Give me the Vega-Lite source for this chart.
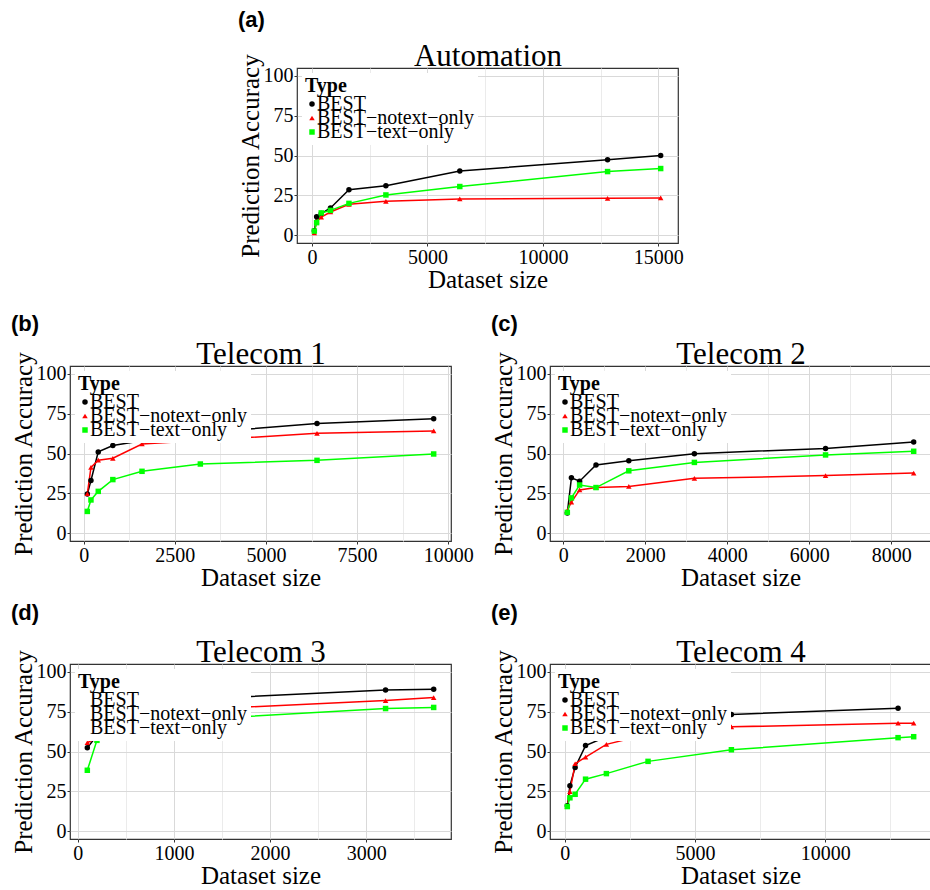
{
  "$schema": "https://vega.github.io/schema/vega-lite/v6.json",
  "background": "white",
  "padding": {"left": 10, "top": 8, "right": 0, "bottom": 0},
  "datasets": {
    "a": [
      {"size": 100, "acc": 2.7, "type": "BEST"}, {"size": 200, "acc": 11.5, "type": "BEST"}, {"size": 400, "acc": 13.5, "type": "BEST"}, {"size": 800, "acc": 17, "type": "BEST"}, {"size": 1600, "acc": 28.5, "type": "BEST"}, {"size": 3200, "acc": 31, "type": "BEST"}, {"size": 6400, "acc": 40.3, "type": "BEST"}, {"size": 12800, "acc": 47.3, "type": "BEST"}, {"size": 15100, "acc": 50, "type": "BEST"},
      {"size": 100, "acc": 1.3, "type": "BEST−notext−only"}, {"size": 200, "acc": 8.6, "type": "BEST−notext−only"}, {"size": 400, "acc": 11.3, "type": "BEST−notext−only"}, {"size": 800, "acc": 14.5, "type": "BEST−notext−only"}, {"size": 1600, "acc": 19.3, "type": "BEST−notext−only"}, {"size": 3200, "acc": 21.2, "type": "BEST−notext−only"}, {"size": 6400, "acc": 22.7, "type": "BEST−notext−only"}, {"size": 12800, "acc": 23.1, "type": "BEST−notext−only"}, {"size": 15100, "acc": 23.3, "type": "BEST−notext−only"},
      {"size": 100, "acc": 2.5, "type": "BEST−text−only"}, {"size": 200, "acc": 7.8, "type": "BEST−text−only"}, {"size": 400, "acc": 13.9, "type": "BEST−text−only"}, {"size": 800, "acc": 15.5, "type": "BEST−text−only"}, {"size": 1600, "acc": 19.9, "type": "BEST−text−only"}, {"size": 3200, "acc": 25.2, "type": "BEST−text−only"}, {"size": 6400, "acc": 30.5, "type": "BEST−text−only"}, {"size": 12800, "acc": 39.9, "type": "BEST−text−only"}, {"size": 15100, "acc": 41.8, "type": "BEST−text−only"}
    ],
    "b": [
      {"size": 100, "acc": 24.5, "type": "BEST"}, {"size": 200, "acc": 33, "type": "BEST"}, {"size": 400, "acc": 51, "type": "BEST"}, {"size": 800, "acc": 55, "type": "BEST"}, {"size": 1600, "acc": 58, "type": "BEST"}, {"size": 3200, "acc": 63, "type": "BEST"}, {"size": 6400, "acc": 68.8, "type": "BEST"}, {"size": 9600, "acc": 71.9, "type": "BEST"},
      {"size": 100, "acc": 24.7, "type": "BEST−notext−only"}, {"size": 200, "acc": 41.3, "type": "BEST−notext−only"}, {"size": 400, "acc": 45.8, "type": "BEST−notext−only"}, {"size": 800, "acc": 47, "type": "BEST−notext−only"}, {"size": 1600, "acc": 56, "type": "BEST−notext−only"}, {"size": 3200, "acc": 58.1, "type": "BEST−notext−only"}, {"size": 6400, "acc": 62.7, "type": "BEST−notext−only"}, {"size": 9600, "acc": 64.2, "type": "BEST−notext−only"},
      {"size": 100, "acc": 13.6, "type": "BEST−text−only"}, {"size": 200, "acc": 20.8, "type": "BEST−text−only"}, {"size": 400, "acc": 26.2, "type": "BEST−text−only"}, {"size": 800, "acc": 33.6, "type": "BEST−text−only"}, {"size": 1600, "acc": 38.8, "type": "BEST−text−only"}, {"size": 3200, "acc": 43.4, "type": "BEST−text−only"}, {"size": 6400, "acc": 45.7, "type": "BEST−text−only"}, {"size": 9600, "acc": 49.7, "type": "BEST−text−only"}
    ],
    "c": [
      {"size": 100, "acc": 12.6, "type": "BEST"}, {"size": 200, "acc": 34.7, "type": "BEST"}, {"size": 400, "acc": 32.6, "type": "BEST"}, {"size": 800, "acc": 42.8, "type": "BEST"}, {"size": 1600, "acc": 45.5, "type": "BEST"}, {"size": 3200, "acc": 49.9, "type": "BEST"}, {"size": 6400, "acc": 53.2, "type": "BEST"}, {"size": 8550, "acc": 57.2, "type": "BEST"},
      {"size": 100, "acc": 14.2, "type": "BEST−notext−only"}, {"size": 200, "acc": 19.5, "type": "BEST−notext−only"}, {"size": 400, "acc": 27.1, "type": "BEST−notext−only"}, {"size": 800, "acc": 28.6, "type": "BEST−notext−only"}, {"size": 1600, "acc": 29.3, "type": "BEST−notext−only"}, {"size": 3200, "acc": 34.4, "type": "BEST−notext−only"}, {"size": 6400, "acc": 36.1, "type": "BEST−notext−only"}, {"size": 8550, "acc": 37.7, "type": "BEST−notext−only"},
      {"size": 100, "acc": 13.0, "type": "BEST−text−only"}, {"size": 200, "acc": 22.1, "type": "BEST−text−only"}, {"size": 400, "acc": 30.2, "type": "BEST−text−only"}, {"size": 800, "acc": 28.6, "type": "BEST−text−only"}, {"size": 1600, "acc": 39.1, "type": "BEST−text−only"}, {"size": 3200, "acc": 44.4, "type": "BEST−text−only"}, {"size": 6400, "acc": 49.1, "type": "BEST−text−only"}, {"size": 8550, "acc": 51.4, "type": "BEST−text−only"}
    ],
    "d": [
      {"size": 100, "acc": 52.4, "type": "BEST"}, {"size": 200, "acc": 60, "type": "BEST"}, {"size": 400, "acc": 68, "type": "BEST"}, {"size": 800, "acc": 77, "type": "BEST"}, {"size": 1600, "acc": 84, "type": "BEST"}, {"size": 3200, "acc": 88.7, "type": "BEST"}, {"size": 3700, "acc": 89.1, "type": "BEST"},
      {"size": 100, "acc": 55.5, "type": "BEST−notext−only"}, {"size": 200, "acc": 58.7, "type": "BEST−notext−only"}, {"size": 400, "acc": 65, "type": "BEST−notext−only"}, {"size": 800, "acc": 72, "type": "BEST−notext−only"}, {"size": 1600, "acc": 77.5, "type": "BEST−notext−only"}, {"size": 3200, "acc": 82.0, "type": "BEST−notext−only"}, {"size": 3700, "acc": 83.9, "type": "BEST−notext−only"},
      {"size": 100, "acc": 38.2, "type": "BEST−text−only"}, {"size": 200, "acc": 57.0, "type": "BEST−text−only"}, {"size": 400, "acc": 62, "type": "BEST−text−only"}, {"size": 800, "acc": 67, "type": "BEST−text−only"}, {"size": 1600, "acc": 71.5, "type": "BEST−text−only"}, {"size": 3200, "acc": 77.0, "type": "BEST−text−only"}, {"size": 3700, "acc": 77.7, "type": "BEST−text−only"}
    ],
    "e": [
      {"size": 100, "acc": 15.9, "type": "BEST"}, {"size": 200, "acc": 28.5, "type": "BEST"}, {"size": 400, "acc": 40, "type": "BEST"}, {"size": 800, "acc": 53.7, "type": "BEST"}, {"size": 1600, "acc": 59.3, "type": "BEST"}, {"size": 3200, "acc": 66, "type": "BEST"}, {"size": 6400, "acc": 73.3, "type": "BEST"}, {"size": 12800, "acc": 77.2, "type": "BEST"},
      {"size": 100, "acc": 15.4, "type": "BEST−notext−only"}, {"size": 200, "acc": 24.8, "type": "BEST−notext−only"}, {"size": 400, "acc": 42.3, "type": "BEST−notext−only"}, {"size": 800, "acc": 46.5, "type": "BEST−notext−only"}, {"size": 1600, "acc": 54.5, "type": "BEST−notext−only"}, {"size": 3200, "acc": 60.8, "type": "BEST−notext−only"}, {"size": 6400, "acc": 65.5, "type": "BEST−notext−only"}, {"size": 12800, "acc": 67.8, "type": "BEST−notext−only"}, {"size": 13400, "acc": 67.8, "type": "BEST−notext−only"},
      {"size": 100, "acc": 15.4, "type": "BEST−text−only"}, {"size": 200, "acc": 20.9, "type": "BEST−text−only"}, {"size": 400, "acc": 23.1, "type": "BEST−text−only"}, {"size": 800, "acc": 32.6, "type": "BEST−text−only"}, {"size": 1600, "acc": 36.1, "type": "BEST−text−only"}, {"size": 3200, "acc": 43.8, "type": "BEST−text−only"}, {"size": 6400, "acc": 51.1, "type": "BEST−text−only"}, {"size": 12800, "acc": 58.7, "type": "BEST−text−only"}, {"size": 13400, "acc": 59.3, "type": "BEST−text−only"}
    ]
  },
  "bounds": "flush",
  "spacing": 298,
  "resolve": {"scale": {"color": "independent", "shape": "independent"}},
  "vconcat": [
    {
      "bounds": "flush",
      "spacing": 27,
      "resolve": {"scale": {"color": "independent", "shape": "independent"}},
      "hconcat": [
        {"width": 200, "height": 175, "view": {"stroke": null}, "data": {"values": []}, "mark": "point", "encoding": {}},
        {
          "width": 381, "height": 175,
          "title": {"text": "(a)", "offset": 8},
          "data": {"name": "a"},
          "resolve": {"axis": {"x": "independent"}},
          "layer": [
            {"mark": {"type": "line", "strokeWidth": 1.5},
             "encoding": {
               "x": {"field": "size", "type": "quantitative", "scale": {"domain": [-650, 15850], "nice": false, "zero": false},
                     "axis": {"title": "Dataset size", "values": [0, 2500, 5000, 7500, 10000, 12500, 15000], "format": "d", "labelExpr": "datum.value % 5000 === 0 ? datum.label : ''", "gridColor": {"condition": {"test": "datum.value % 5000 !== 0", "value": "#ebebeb"}, "value": "#d9d9d9"}, "tickColor": {"condition": {"test": "datum.value % 5000 !== 0", "value": "transparent"}, "value": "#333333"}}},
               "y": {"field": "acc", "type": "quantitative", "scale": {"domain": [-5, 105], "nice": false, "zero": false},
                     "axis": {"title": "Prediction Accuracy", "values": [0, 12.5, 25, 37.5, 50, 62.5, 75, 87.5, 100], "labelExpr": "datum.value % 25 === 0 ? datum.label : ''", "gridColor": {"condition": {"test": "datum.value % 25 !== 0", "value": "#ebebeb"}, "value": "#d9d9d9"}, "tickColor": {"condition": {"test": "datum.value % 25 !== 0", "value": "transparent"}, "value": "#333333"}}},
               "color": {"field": "type", "type": "nominal", "title": "Type", "scale": {"domain": ["BEST", "BEST−notext−only", "BEST−text−only"], "range": ["#000000", "#ff0000", "#00ff00"]}}
             }},
            {"mark": {"type": "point", "filled": true, "size": 30, "opacity": 1},
             "encoding": {
               "x": {"field": "size", "type": "quantitative", "axis": {"orient": "top", "title": "Automation", "labels": false, "ticks": false, "grid": false, "domain": false, "titleFontSize": 31, "titlePadding": -4}},
               "y": {"field": "acc", "type": "quantitative"},
               "color": {"field": "type", "type": "nominal", "title": "Type", "scale": {"domain": ["BEST", "BEST−notext−only", "BEST−text−only"], "range": ["#000000", "#ff0000", "#00ff00"]}},
               "shape": {"field": "type", "type": "nominal", "title": "Type", "scale": {"domain": ["BEST", "BEST−notext−only", "BEST−text−only"], "range": ["circle", "triangle-up", "square"]}}
             }}
          ]
        }
      ]
    },
    {
      "bounds": "flush",
      "spacing": 99,
      "resolve": {"scale": {"color": "independent", "shape": "independent"}},
      "hconcat": [
        {
          "width": 381, "height": 175,
          "title": {"text": "(b)", "offset": 2},
          "data": {"name": "b"},
          "resolve": {"axis": {"x": "independent"}},
          "layer": [
            {"mark": {"type": "line", "strokeWidth": 1.5},
             "encoding": {
               "x": {"field": "size", "type": "quantitative", "scale": {"domain": [-375, 10075], "nice": false, "zero": false},
                     "axis": {"title": "Dataset size", "values": [0, 1250, 2500, 3750, 5000, 6250, 7500, 8750, 10000], "format": "d", "labelExpr": "datum.value % 2500 === 0 ? datum.label : ''", "gridColor": {"condition": {"test": "datum.value % 2500 !== 0", "value": "#ebebeb"}, "value": "#d9d9d9"}, "tickColor": {"condition": {"test": "datum.value % 2500 !== 0", "value": "transparent"}, "value": "#333333"}}},
               "y": {"field": "acc", "type": "quantitative", "scale": {"domain": [-5, 105], "nice": false, "zero": false},
                     "axis": {"title": "Prediction Accuracy", "values": [0, 12.5, 25, 37.5, 50, 62.5, 75, 87.5, 100], "labelExpr": "datum.value % 25 === 0 ? datum.label : ''", "gridColor": {"condition": {"test": "datum.value % 25 !== 0", "value": "#ebebeb"}, "value": "#d9d9d9"}, "tickColor": {"condition": {"test": "datum.value % 25 !== 0", "value": "transparent"}, "value": "#333333"}}},
               "color": {"field": "type", "type": "nominal", "title": "Type", "scale": {"domain": ["BEST", "BEST−notext−only", "BEST−text−only"], "range": ["#000000", "#ff0000", "#00ff00"]}}
             }},
            {"mark": {"type": "point", "filled": true, "size": 30, "opacity": 1},
             "encoding": {
               "x": {"field": "size", "type": "quantitative", "axis": {"orient": "top", "title": "Telecom 1", "labels": false, "ticks": false, "grid": false, "domain": false, "titleFontSize": 31, "titlePadding": -4}},
               "y": {"field": "acc", "type": "quantitative"},
               "color": {"field": "type", "type": "nominal", "title": "Type", "scale": {"domain": ["BEST", "BEST−notext−only", "BEST−text−only"], "range": ["#000000", "#ff0000", "#00ff00"]}},
               "shape": {"field": "type", "type": "nominal", "title": "Type", "scale": {"domain": ["BEST", "BEST−notext−only", "BEST−text−only"], "range": ["circle", "triangle-up", "square"]}}
             }}
          ]
        },
        {
          "width": 381, "height": 175,
          "title": {"text": "(c)", "offset": 2},
          "data": {"name": "c"},
          "resolve": {"axis": {"x": "independent"}},
          "layer": [
            {"mark": {"type": "line", "strokeWidth": 1.5},
             "encoding": {
               "x": {"field": "size", "type": "quantitative", "scale": {"domain": [-322.5, 8972.5], "nice": false, "zero": false},
                     "axis": {"title": "Dataset size", "values": [0, 1000, 2000, 3000, 4000, 5000, 6000, 7000, 8000], "format": "d", "labelExpr": "datum.value % 2000 === 0 ? datum.label : ''", "gridColor": {"condition": {"test": "datum.value % 2000 !== 0", "value": "#ebebeb"}, "value": "#d9d9d9"}, "tickColor": {"condition": {"test": "datum.value % 2000 !== 0", "value": "transparent"}, "value": "#333333"}}},
               "y": {"field": "acc", "type": "quantitative", "scale": {"domain": [-5, 105], "nice": false, "zero": false},
                     "axis": {"title": "Prediction Accuracy", "values": [0, 12.5, 25, 37.5, 50, 62.5, 75, 87.5, 100], "labelExpr": "datum.value % 25 === 0 ? datum.label : ''", "gridColor": {"condition": {"test": "datum.value % 25 !== 0", "value": "#ebebeb"}, "value": "#d9d9d9"}, "tickColor": {"condition": {"test": "datum.value % 25 !== 0", "value": "transparent"}, "value": "#333333"}}},
               "color": {"field": "type", "type": "nominal", "title": "Type", "scale": {"domain": ["BEST", "BEST−notext−only", "BEST−text−only"], "range": ["#000000", "#ff0000", "#00ff00"]}}
             }},
            {"mark": {"type": "point", "filled": true, "size": 30, "opacity": 1},
             "encoding": {
               "x": {"field": "size", "type": "quantitative", "axis": {"orient": "top", "title": "Telecom 2", "labels": false, "ticks": false, "grid": false, "domain": false, "titleFontSize": 31, "titlePadding": -4}},
               "y": {"field": "acc", "type": "quantitative"},
               "color": {"field": "type", "type": "nominal", "title": "Type", "scale": {"domain": ["BEST", "BEST−notext−only", "BEST−text−only"], "range": ["#000000", "#ff0000", "#00ff00"]}},
               "shape": {"field": "type", "type": "nominal", "title": "Type", "scale": {"domain": ["BEST", "BEST−notext−only", "BEST−text−only"], "range": ["circle", "triangle-up", "square"]}}
             }}
          ]
        }
      ]
    },
    {
      "bounds": "flush",
      "spacing": 99,
      "resolve": {"scale": {"color": "independent", "shape": "independent"}},
      "hconcat": [
        {
          "width": 381, "height": 175,
          "title": {"text": "(d)", "offset": 11},
          "data": {"name": "d"},
          "resolve": {"axis": {"x": "independent"}},
          "layer": [
            {"mark": {"type": "line", "strokeWidth": 1.5},
             "encoding": {
               "x": {"field": "size", "type": "quantitative", "scale": {"domain": [-80, 3880], "nice": false, "zero": false},
                     "axis": {"title": "Dataset size", "values": [0, 500, 1000, 1500, 2000, 2500, 3000, 3500], "format": "d", "labelExpr": "datum.value % 1000 === 0 ? datum.label : ''", "gridColor": {"condition": {"test": "datum.value % 1000 !== 0", "value": "#ebebeb"}, "value": "#d9d9d9"}, "tickColor": {"condition": {"test": "datum.value % 1000 !== 0", "value": "transparent"}, "value": "#333333"}}},
               "y": {"field": "acc", "type": "quantitative", "scale": {"domain": [-5, 105], "nice": false, "zero": false},
                     "axis": {"title": "Prediction Accuracy", "values": [0, 12.5, 25, 37.5, 50, 62.5, 75, 87.5, 100], "labelExpr": "datum.value % 25 === 0 ? datum.label : ''", "gridColor": {"condition": {"test": "datum.value % 25 !== 0", "value": "#ebebeb"}, "value": "#d9d9d9"}, "tickColor": {"condition": {"test": "datum.value % 25 !== 0", "value": "transparent"}, "value": "#333333"}}},
               "color": {"field": "type", "type": "nominal", "title": "Type", "scale": {"domain": ["BEST", "BEST−notext−only", "BEST−text−only"], "range": ["#000000", "#ff0000", "#00ff00"]}, "legend": {"symbolOpacity": 0}}
             }},
            {"mark": {"type": "point", "filled": true, "size": 30, "opacity": 1},
             "encoding": {
               "x": {"field": "size", "type": "quantitative", "axis": {"orient": "top", "title": "Telecom 3", "labels": false, "ticks": false, "grid": false, "domain": false, "titleFontSize": 31, "titlePadding": -4}},
               "y": {"field": "acc", "type": "quantitative"},
               "color": {"field": "type", "type": "nominal", "title": "Type", "scale": {"domain": ["BEST", "BEST−notext−only", "BEST−text−only"], "range": ["#000000", "#ff0000", "#00ff00"]}, "legend": {"symbolOpacity": 0}},
               "shape": {"field": "type", "type": "nominal", "title": "Type", "scale": {"domain": ["BEST", "BEST−notext−only", "BEST−text−only"], "range": ["circle", "triangle-up", "square"]}, "legend": {"symbolOpacity": 0}}
             }}
          ]
        },
        {
          "width": 381, "height": 175,
          "title": {"text": "(e)", "offset": 11},
          "data": {"name": "e"},
          "resolve": {"axis": {"x": "independent"}},
          "layer": [
            {"mark": {"type": "line", "strokeWidth": 1.5},
             "encoding": {
               "x": {"field": "size", "type": "quantitative", "scale": {"domain": [-565, 14065], "nice": false, "zero": false},
                     "axis": {"title": "Dataset size", "values": [0, 2500, 5000, 7500, 10000, 12500], "format": "d", "labelExpr": "datum.value % 5000 === 0 ? datum.label : ''", "gridColor": {"condition": {"test": "datum.value % 5000 !== 0", "value": "#ebebeb"}, "value": "#d9d9d9"}, "tickColor": {"condition": {"test": "datum.value % 5000 !== 0", "value": "transparent"}, "value": "#333333"}}},
               "y": {"field": "acc", "type": "quantitative", "scale": {"domain": [-5, 105], "nice": false, "zero": false},
                     "axis": {"title": "Prediction Accuracy", "values": [0, 12.5, 25, 37.5, 50, 62.5, 75, 87.5, 100], "labelExpr": "datum.value % 25 === 0 ? datum.label : ''", "gridColor": {"condition": {"test": "datum.value % 25 !== 0", "value": "#ebebeb"}, "value": "#d9d9d9"}, "tickColor": {"condition": {"test": "datum.value % 25 !== 0", "value": "transparent"}, "value": "#333333"}}},
               "color": {"field": "type", "type": "nominal", "title": "Type", "scale": {"domain": ["BEST", "BEST−notext−only", "BEST−text−only"], "range": ["#000000", "#ff0000", "#00ff00"]}}
             }},
            {"mark": {"type": "point", "filled": true, "size": 30, "opacity": 1},
             "encoding": {
               "x": {"field": "size", "type": "quantitative", "axis": {"orient": "top", "title": "Telecom 4", "labels": false, "ticks": false, "grid": false, "domain": false, "titleFontSize": 31, "titlePadding": -4}},
               "y": {"field": "acc", "type": "quantitative"},
               "color": {"field": "type", "type": "nominal", "title": "Type", "scale": {"domain": ["BEST", "BEST−notext−only", "BEST−text−only"], "range": ["#000000", "#ff0000", "#00ff00"]}},
               "shape": {"field": "type", "type": "nominal", "title": "Type", "scale": {"domain": ["BEST", "BEST−notext−only", "BEST−text−only"], "range": ["circle", "triangle-up", "square"]}}
             }}
          ]
        }
      ]
    }
  ],
  "config": {
    "view": {"stroke": "#333333", "strokeWidth": 1.2},
    "title": {"font": "Liberation Sans", "fontSize": 22, "fontWeight": "bold", "anchor": "start", "frame": "bounds", "color": "black", "offset": 10},
    "axis": {
      "labelFont": "Liberation Serif", "labelFontSize": 20, "labelColor": "black", "labelPadding": 1,
      "labelOverlap": false, "labelFlush": false,
      "titleFont": "Liberation Serif", "titleFontSize": 25, "titleFontWeight": "normal", "titleColor": "black", "titlePadding": 0,
      "domain": false, "tickSize": 3, "tickWidth": 1, "gridWidth": 1
    },
    "legend": {
      "orient": "top-left", "offset": 5, "padding": 3, "fillColor": "white",
      "titleFont": "Liberation Serif", "titleFontSize": 20, "titleFontWeight": "bold", "titleColor": "black", "titlePadding": -2,
      "labelFont": "Liberation Serif", "labelFontSize": 20, "labelColor": "black", "labelLimit": 300, "labelOffset": -5,
      "gridAlign": "none", "rowPadding": -6, "symbolOffset": -3, "symbolSize": 30, "symbolStrokeWidth": 0
    }
  }
}
